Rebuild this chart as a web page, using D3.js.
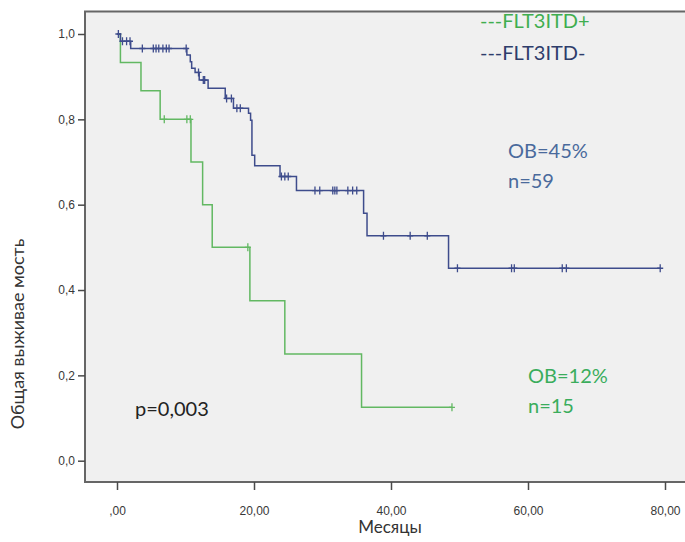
<!DOCTYPE html>
<html>
<head>
<meta charset="utf-8">
<script src="https://cdn.jsdelivr.net/npm/d3@7"></script>
<style>
  body { margin: 0; background: #fff; }
  svg { display: block; }
  .tick text { font-family: Arial, "Liberation Sans", sans-serif; font-size: 12px; fill: #383838; }
  .tick line { stroke: #4a4a4a; stroke-width: 1.5px; }
</style>
</head>
<body>
<div id="chart-area"></div>
<script>
// ---- data ----
// FLT3ITD+ (green), step times (months) and survival after each step
const plusTimes = [0, 0.5, 3.5, 6.3, 10.8, 12.5, 13.9, 19.4, 24.5, 35.7, 48.9]
const plusSurv  = [1.0, 0.933, 0.867, 0.8, 0.7, 0.6, 0.5, 0.375, 0.25, 0.125, 0.125]
const plusCensored = [6.9, 10.2, 10.7, 19.1, 48.9]

// FLT3ITD- (blue)
const minusTimes = [0, 0.5, 2.0, 10.2, 10.7, 10.9, 11.4, 12.0, 13.3, 15.8, 17.0, 19.2, 19.5, 19.7, 20.1, 23.8, 26.2, 36.0, 36.5, 48.4, 79.3]
const minusSurv  = [1.0, 0.983, 0.966, 0.951, 0.935, 0.92, 0.91, 0.892, 0.873, 0.849, 0.826, 0.814, 0.798, 0.716, 0.691, 0.666, 0.633, 0.58, 0.527, 0.451, 0.451]
const minusCensored = [0.2, 0.8, 1.4, 1.9, 3.7, 5.3, 5.7, 6.1, 6.7, 7.2, 7.6, 10.1, 11.9, 12.6, 12.8,
  16.0, 16.7, 17.5, 18.0, 24.0, 24.5, 25.0, 28.9, 29.6, 31.5, 31.8, 32.1, 33.7, 34.4, 35.0,
  38.9, 42.8, 45.3, 49.7, 57.6, 58.0, 65.0, 65.6, 79.3]

const xTicks = [0, 20, 40, 60, 80]
const yTicks = [0, 0.2, 0.4, 0.6, 0.8, 1.0]

const GREEN_LINE = "#62b862"
const BLUE_LINE = "#3e4c8c"

const W = 685, H = 542
const FRAME = { LEFT: 85, TOP: 11.5, RIGHT: 700, BOTTOM: 482 }
const FONT = "Lato, 'Open Sans', sans-serif"

const svg = d3.select("#chart-area").append("svg")
  .attr("width", W)
  .attr("height", H)

// scales
const x = d3.scaleLinear().domain([0, 80]).range([117, 665])
const y = d3.scaleLinear().domain([0, 1]).range([460.7, 34])

// plot frame
svg.append("rect")
  .attr("x", FRAME.LEFT)
  .attr("y", FRAME.TOP)
  .attr("width", FRAME.RIGHT - FRAME.LEFT)
  .attr("height", FRAME.BOTTOM - FRAME.TOP)
  .attr("fill", "#f0f0f0")
  .attr("stroke", "#666")
  .attr("stroke-width", 2)

// axes
const yAxisCall = d3.axisLeft(y)
  .tickValues(yTicks)
  .tickSize(7)
  .tickPadding(3)
  .tickFormat(d => d3.format(".1f")(d).replace(".", ","))
const yAxis = svg.append("g")
  .attr("transform", `translate(${FRAME.LEFT}, 0)`)
  .call(yAxisCall)
yAxis.select(".domain").remove()

const xAxisCall = d3.axisBottom(x)
  .tickValues(xTicks)
  .tickSize(8)
  .tickPadding(16)
  .tickFormat(d => d === 0 ? ",00" : d3.format(".2f")(d).replace(".", ","))
const xAxis = svg.append("g")
  .attr("transform", `translate(0, ${FRAME.BOTTOM})`)
  .call(xAxisCall)
xAxis.select(".domain").remove()

// axis titles
svg.append("text")
  .attr("transform", `translate(24, 334) rotate(-90)`)
  .attr("text-anchor", "middle")
  .attr("font-family", FONT)
  .attr("font-size", 18)
  .attr("fill", "#333")
  .text("Общая выживае мость")

svg.append("text")
  .attr("x", 390)
  .attr("y", 533)
  .attr("text-anchor", "middle")
  .attr("font-family", FONT)
  .attr("font-size", 17)
  .attr("fill", "#333")
  .text("Месяцы")

// survival curves
const stepLine = d3.line()
  .x(d => x(d[0]))
  .y(d => y(d[1]))
  .curve(d3.curveStepAfter)

const survAt = (times, surv, t) => {
  let s = surv[0]
  times.forEach((tt, i) => { if (tt <= t) s = surv[i] })
  return s
}

const drawCurve = (times, surv, censored, color) => {
  const pts = times.map((t, i) => [t, surv[i]])
  svg.append("path")
    .attr("d", stepLine(pts))
    .attr("fill", "none")
    .attr("stroke", color)
    .attr("stroke-width", 1.5)

  svg.append("g").selectAll("path")
    .data(censored)
    .enter().append("path")
    .attr("d", t => {
      const cx = x(t), cy = y(survAt(times, surv, t))
      return `M${cx},${cy - 4}V${cy + 4}M${cx - 3},${cy}H${cx + 3}`
    })
    .attr("stroke", color)
    .attr("stroke-width", 1.3)
}

drawCurve(plusTimes, plusSurv, plusCensored, GREEN_LINE)
drawCurve(minusTimes, minusSurv, minusCensored, BLUE_LINE)

// annotations
const note = (tx, ty, txt, color) => svg.append("text")
  .attr("x", tx)
  .attr("y", ty)
  .attr("font-family", FONT)
  .attr("font-size", 20)
  .attr("fill", color)
  .text(txt)

note(480, 28, "---FLT3ITD+", "#3fae4f")
note(480, 60, "---FLT3ITD-", "#2e3d6b")
note(508, 158, "OB=45%", "#4a6a9c")
note(508, 188, "n=59", "#4a6a9c")
note(528, 383, "OB=12%", "#3aad5c")
note(528, 413, "n=15", "#3aad5c")
note(135, 416, "p=0,003", "#222")
</script>
</body>
</html>
